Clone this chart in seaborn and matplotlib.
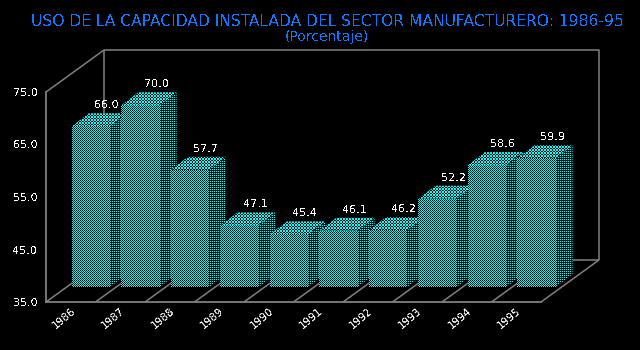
# -*- coding: utf-8 -*-
"""
Pseudo 3D bar chart of manufacturing capacity use, 1986-95
"""

# import libraries
import numpy as np
import pandas as pd
import matplotlib
matplotlib.use('Agg')
import matplotlib.pyplot as plt
from matplotlib.patches import Polygon
from matplotlib.transforms import IdentityTransform
import seaborn as sns

# data
years = ['1986', '1987', '1988', '1989', '1990',
         '1991', '1992', '1993', '1994', '1995']
capacity = [66.0, 70.0, 57.7, 47.1, 45.4, 46.1, 46.2, 52.2, 58.6, 59.9]
y_ticks = [35, 45, 55, 65, 75]
title = 'USO DE LA CAPACIDAD INSTALADA DEL SECTOR MANUFACTURERO: 1986-95'
subtitle = '(Porcentaje)'

# colors
grey = '#808080'
blue = '#0a78ff'

# set theme
sns.set_theme(style='white')
plt.rcParams['text.antialiased'] = False

# create plot, the axes are the front plane of the box
fig = plt.figure(figsize=(6.4, 3.5), dpi=100, facecolor='black')
ax = fig.add_axes([46 / 640, 48 / 350, 495 / 640, 210 / 350])
ax.set_facecolor('none')

# scale of the axes, pixels per data unit
px_x = 495 / 10
px_y = 210 / 40

# depth of the box, of the bar plane and of the bars, in pixels
box_dx, box_dy = 58, 42
plane_dx, base_dy, top_dy = 20.25, 15, 13
bar_dx, bar_dy = 17, 13

# plot bars
df = pd.DataFrame({'year': years, 'capacity': capacity})
sns.barplot(data=df, x='year', y='capacity', color='black', width=0.77,
            bottom=y_ticks[0], saturation=1, ax=ax, errorbar=None, zorder=3)

# dither patterns, in device pixels
h, w = 350, 640
yy, xx = np.mgrid[0:h, 0:w]


def pattern(mask):
    rgba = np.ones((h, w, 4))
    rgba[..., 0] = 0
    rgba[~mask, :3] = 0
    return rgba


front_tex = pattern((xx + yy) % 2 == 0)
side_tex = pattern((xx % 2 == 0) & (yy % 2 == 0))
top_tex = pattern(((xx + yy) % 3 == 0) | ((xx - yy) % 3 == 0))


def textured(points, tex, zorder):
    poly = Polygon(points, closed=True, facecolor='black', edgecolor='none',
                   transform=ax.transData, zorder=zorder, clip_on=False)
    ax.add_patch(poly)
    im = ax.imshow(tex, extent=(0, w, 0, h), origin='lower', aspect='auto',
                   interpolation='nearest', transform=IdentityTransform(),
                   zorder=zorder + 0.01)
    im.set_clip_box(fig.bbox)
    im.set_clip_path(poly)


shift_x = plane_dx / px_x
depth_x = bar_dx / px_x
depth_y = bar_dy / px_y

for i, (bar, value) in enumerate(zip(list(ax.patches), capacity)):
    left = bar.get_x() + shift_x
    right = left + bar.get_width()
    base = y_ticks[0] + base_dy / px_y
    top = value + top_dy / px_y
    z = 3 + i
    bar.set_visible(False)
    # side face
    textured([(right, base), (right + depth_x, base + depth_y),
              (right + depth_x, top + depth_y), (right, top)], side_tex, z)
    # top face
    textured([(left, top), (right, top), (right + depth_x, top + depth_y),
              (left + depth_x, top + depth_y)], top_tex, z + 0.2)
    # front face
    textured([(left, base), (right, base), (right, top), (left, top)],
             front_tex, z + 0.4)
    # value label
    ax.annotate(f'{value:.1f}', xy=((left + right) / 2, top), xytext=(16, 21),
                textcoords='offset pixels', ha='center', va='center',
                color='white', fontsize=8, zorder=30, annotation_clip=False)

ax.set_xlim(-0.5, 9.5)
ax.set_ylim(35, 75)

# box behind the bars
box_x = box_dx / px_x
box_y = box_dy / px_y
line = dict(color=grey, lw=1.1, clip_on=False, zorder=1, solid_capstyle='butt')
ax.plot([-0.5 + box_x, 9.5 + box_x, 9.5 + box_x],
        [75 + box_y, 75 + box_y, 35 + box_y], **line)
ax.plot([-0.5 + box_x, -0.5 + box_x, 9.5 + box_x],
        [75 + box_y, 35 + box_y, 35 + box_y], **line)
ax.plot([-0.5, -0.5 + box_x], [75, 75 + box_y], **line)
for edge in np.arange(-0.5, 10):
    ax.plot([edge, edge + box_x], [35, 35 + box_y], **line)

# axes
sns.despine(ax=ax)
for side in ['left', 'bottom']:
    ax.spines[side].set_color(grey)
    ax.spines[side].set_linewidth(1.3)
ax.set_xlabel('')
ax.set_ylabel('')
ax.set_yticks(y_ticks, [f'{t:.1f}' for t in y_ticks])
ax.set_xticks(range(len(years)), years)
ax.tick_params(axis='y', length=0, pad=6, colors='white', labelsize=8)
ax.tick_params(axis='x', length=0, pad=3, colors='white', labelsize=7.5)
for label in ax.get_xticklabels():
    label.set_rotation(40)
    label.set_ha('right')
    label.set_rotation_mode('anchor')

# titles
fig.text(327 / 640, 1 - 21 / 350, title, color=blue, fontsize=11.2,
         ha='center', va='center')
fig.text(327 / 640, 1 - 37 / 350, subtitle, color=blue, fontsize=10,
         ha='center', va='center')

plt.savefig('out.png', dpi=100, facecolor='black')
